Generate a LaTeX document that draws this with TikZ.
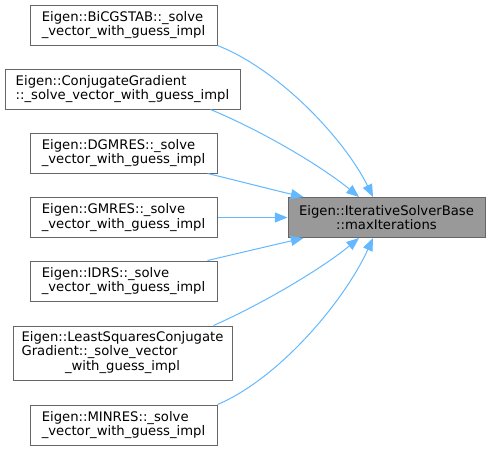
\documentclass[tikz,border=0pt]{standalone}
\usepackage{fontspec}
\setmainfont{DejaVu Sans}
\usetikzlibrary{arrows.meta}
\definecolor{edgeblue}{HTML}{63B8FF}
\definecolor{boxgray}{HTML}{666666}
\definecolor{targetfill}{HTML}{999999}
\tikzset{
  fnbox/.style={draw=boxgray, line width=0.75pt, fill=white, rectangle, inner sep=0pt,
    minimum height=30pt, align=left, font=\fontsize{9.9}{10.7}\selectfont},
  targetbox/.style={fnbox, fill=targetfill, align=center},
  dep/.style={draw=edgeblue, line width=0.75pt, -{Triangle[length=9.5pt,width=7.5pt]}}
}
\begin{document}
\begin{tikzpicture}[x=0.75pt,y=-0.75pt]
\useasboundingbox (0,0) rectangle (489,451);
\node[fnbox, minimum width=140.25pt] (n1) at (123.5,25) {Eigen::BiCGSTAB::\_solve\\\_vector\_with\_guess\_impl};
\node[fnbox, minimum width=176.25pt] (n2) at (122.5,89) {Eigen::ConjugateGradient\\::\_solve\_vector\_with\_guess\_impl};
\node[fnbox, minimum width=140.25pt] (n3) at (123.5,153) {Eigen::DGMRES::\_solve\\\_vector\_with\_guess\_impl};
\node[fnbox, minimum width=140.25pt] (n4) at (123.5,217.5) {Eigen::GMRES::\_solve\\\_vector\_with\_guess\_impl};
\node[fnbox, minimum width=140.25pt] (n5) at (123.5,281) {Eigen::IDRS::\_solve\\\_vector\_with\_guess\_impl};
\node[fnbox, minimum width=164.25pt, minimum height=40.5pt] (n6) at (122.5,353) {\begin{tabular}{@{}l@{}}Eigen::LeastSquaresConjugate\\Gradient::\_solve\_vector\\\multicolumn{1}{@{}c@{}}{\_with\_guess\_impl}\end{tabular}};
\node[fnbox, minimum width=140.25pt] (n7) at (123.5,425) {Eigen::MINRES::\_solve\\\_vector\_with\_guess\_impl};
\node[targetbox, minimum width=147.75pt] (t) at (386.5,217.5) {Eigen::IterativeSolverBase\\::maxIterations};

\draw[dep] (n1.south east) .. controls (280,70) and (345,140) .. ([xshift=-10.1pt]t.north);
\draw[dep] ([xshift=-22.5pt]n2.south east) .. controls (260,130) and (320,165) .. ([xshift=-20.6pt]t.north);
\draw[dep] ([xshift=-7.5pt]n3.south east) .. controls (235,180) and (265,188) .. ([xshift=12pt]t.north west);
\draw[dep] (n4.east) -- (n4.east -| t.west);
\draw[dep] ([xshift=-7.5pt]n5.north east) .. controls (235,254) and (265,247) .. ([xshift=12pt]t.south west);
\draw[dep] ([xshift=-14.25pt]n6.north east) .. controls (260,305) and (320,270) .. ([xshift=-20.6pt]t.south);
\draw[dep] (n7.north east) .. controls (280,378) and (345,300) .. ([xshift=-10.1pt]t.south);
\end{tikzpicture}
\end{document}
